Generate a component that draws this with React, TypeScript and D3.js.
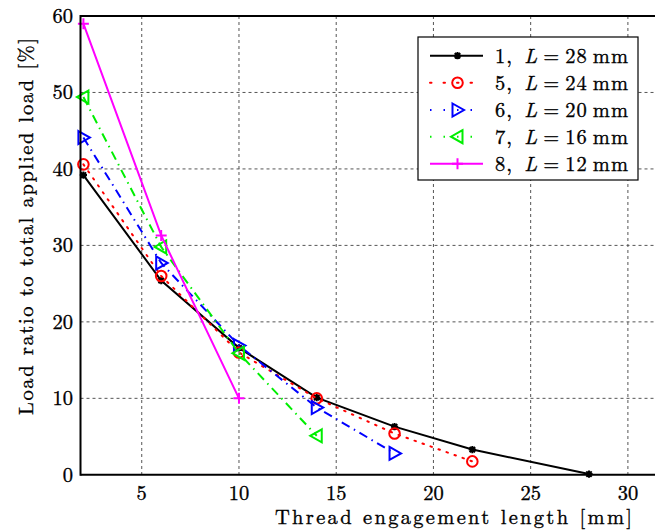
import React from "react";
import * as d3 from "d3";

const xValues = [2, 6, 10, 14, 18, 22, 28];
const seriesNames = ["1", "5", "6", "7", "8"];
const seriesL = ["28", "24", "20", "16", "12"];
const s1 = [39.2, 25.4, 16.6, 10.1, 6.3, 3.3, 0.1];
const s5 = [40.6, 26.0, 16.0, 10.0, 5.4, 1.75];
const s6 = [44.1, 27.7, 16.9, 8.8, 2.8];
const s7 = [49.4, 29.8, 15.9, 5.1];
const s8 = [59.0, 31.3, 10.0];
const xTicks = [5, 10, 15, 20, 25, 30];
const yTicks = [0, 10, 20, 30, 40, 50, 60];

const colors = ["#000000", "#ff0000", "#0000ff", "#00ee00", "#ff00ff"];
const dashes = ["none", "1.5,7", "9,5,1.5,5", "9,5,1.5,5", "none"];
const markers = ["star", "circle", "right", "left", "plus"];

const W = 655, H = 530;
const x = d3.scaleLinear().domain([2, 30]).range([83.4, 627.9]);
const y = d3.scaleLinear().domain([0, 60]).range([474.8, 16]);
const left = 80.5, right = 660, top = 16, bottom = 474.8;

function Marker({ kind, cx, cy, color }: { kind: string; cx: number; cy: number; color: string }) {
  if (kind === "circle") return <circle cx={cx} cy={cy} r={5.3} fill="none" stroke={color} strokeWidth={2} />;
  if (kind === "right") {
    const p = `M${cx - 5},${cy - 6.5}L${cx + 6.5},${cy}L${cx - 5},${cy + 6.5}Z`;
    return <path d={p} fill="none" stroke={color} strokeWidth={2} strokeLinejoin="miter" />;
  }
  if (kind === "left") {
    const p = `M${cx + 5},${cy - 6.5}L${cx - 6.5},${cy}L${cx + 5},${cy + 6.5}Z`;
    return <path d={p} fill="none" stroke={color} strokeWidth={2} strokeLinejoin="miter" />;
  }
  if (kind === "plus") {
    return <path d={`M${cx - 5.5},${cy}H${cx + 5.5}M${cx},${cy - 5.5}V${cy + 5.5}`} stroke={color} strokeWidth={2} />;
  }
  const r = 3.6;
  return (
    <g stroke={color} strokeWidth={2}>
      <path d={`M${cx - r},${cy}H${cx + r}M${cx},${cy - r}V${cy + r}M${cx - r * 0.75},${cy - r * 0.75}L${cx + r * 0.75},${cy + r * 0.75}M${cx - r * 0.75},${cy + r * 0.75}L${cx + r * 0.75},${cy - r * 0.75}`} />
      <circle cx={cx} cy={cy} r={2} fill={color} stroke="none" />
    </g>
  );
}

export default function App() {
  const allSeries = [s1, s5, s6, s7, s8];
  const line = d3.line<[number, number]>().x((d) => x(d[0])).y((d) => y(d[1]));
  const font = "'Latin Modern Roman', 'CMU Serif', 'Liberation Serif', 'DejaVu Serif', serif";
  const legX = 418, legY = 37, legW = 220, legH = 143;
  const rowY = [55.7, 82.7, 110, 136.7, 163.7];
  const txtStroke = { stroke: "#000", strokeWidth: 0.35 };
  return (
    <svg width={W} height={H} style={{ position: "absolute", left: 0, top: 0, background: "#fff" }} fontFamily={font}>
      <rect x={0} y={0} width={W} height={H} fill="#fff" />
      <g stroke="#555" strokeWidth={1} strokeDasharray="3,3">
        {xTicks.map((t) => (
          <line key={"gx" + t} x1={x(t)} x2={x(t)} y1={top} y2={bottom} />
        ))}
        {yTicks.filter((t) => t > 0 && t < 60).map((t) => (
          <line key={"gy" + t} x1={left} x2={right} y1={y(t)} y2={y(t)} />
        ))}
      </g>
      {allSeries.map((s, i) => {
        const pts = s.map((v, j) => [xValues[j], v] as [number, number]);
        return (
          <g key={"s" + i}>
            <path d={line(pts) || ""} fill="none" stroke={colors[i]} strokeWidth={2} strokeDasharray={dashes[i]} strokeLinecap={i === 1 ? "round" : "butt"} />
            {pts.map((p, j) => (
              <Marker key={j} kind={markers[i]} cx={x(p[0])} cy={y(p[1])} color={colors[i]} />
            ))}
          </g>
        );
      })}
      <g stroke="#000" strokeWidth={2} fill="none">
        <line x1={left} x2={right} y1={bottom} y2={bottom} />
        <line x1={left} x2={right} y1={top} y2={top} />
        <line x1={left} x2={left} y1={top - 1} y2={bottom + 1} />
      </g>
      <g fontSize={20.5} fill="#000" {...txtStroke}>
        {xTicks.map((t) => (
          <text key={"tx" + t} x={x(t)} y={500} textAnchor="middle">{t}</text>
        ))}
        {yTicks.map((t) => (
          <text key={"ty" + t} x={73} y={y(t) + 7} textAnchor="end">{t}</text>
        ))}
      </g>
      <text x={275} y={524} fontSize={20.5} textLength={357} lengthAdjust="spacing" {...txtStroke}>Thread engagement length [mm]</text>
      <text transform={`translate(33,415) rotate(-90)`} fontSize={20.5} textLength={377} lengthAdjust="spacing" {...txtStroke}>Load ratio to total applied load [%]</text>
      <rect x={legX} y={legY} width={legW} height={legH} fill="#fff" stroke="#000" strokeWidth={1.2} />
      {seriesNames.map((n, i) => (
        <g key={"l" + i}>
          <line x1={430} x2={483} y1={rowY[i]} y2={rowY[i]} stroke={colors[i]} strokeWidth={2} strokeDasharray={dashes[i] === "none" ? "none" : "1.5,12"} strokeLinecap={i === 1 ? "round" : "butt"} />
          <Marker kind={markers[i]} cx={457.5} cy={rowY[i]} color={colors[i]} />
          <text x={495} y={rowY[i] + 7} fontSize={20.5} textLength={133} lengthAdjust="spacing" {...txtStroke}>
            {n},{"\u2002"}<tspan fontStyle="italic">L</tspan>{"\u2009"}={"\u2009"}{seriesL[i]}{"\u2009"}mm
          </text>
        </g>
      ))}
    </svg>
  );
}
